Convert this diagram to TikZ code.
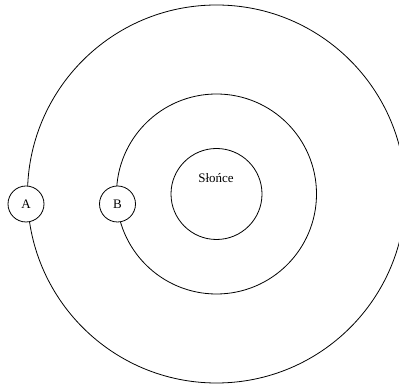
\documentclass[tikz,border=0pt]{standalone}
\usepackage{fontspec}
\setmainfont{Liberation Serif}

\begin{document}
\begin{tikzpicture}[
			x=1pt,
			y=1pt,
			line cap=round,
			line join=round,
			line width=0.8pt,
			planet/.style={circle,draw,fill=white,minimum size=36pt,inner sep=0pt,font=\fontsize{13}{15}\selectfont}
			]
			
			\useasboundingbox (0,0) rectangle (399,385);
			
			\def\OuterOrbit{189}
			\def\InnerOrbit{100}
			\def\SunRadius{45.5}
			
			\coordinate (S) at (216.5,191);
			
			% Sun
			\draw (S) circle[radius=\SunRadius];
			\node[font=\fontsize{13}{15}\selectfont] (sun) at (216,207) {Słońce};
			
			% Orbits
			\draw (S) circle[radius=\OuterOrbit];
			\draw (S) circle[radius=\InnerOrbit];
			
			% Planets
			\node[planet] (A) at (26,181) {A};
			\node[planet] (B) at (117.5,181) {B};
			
		\end{tikzpicture}
\end{document}
